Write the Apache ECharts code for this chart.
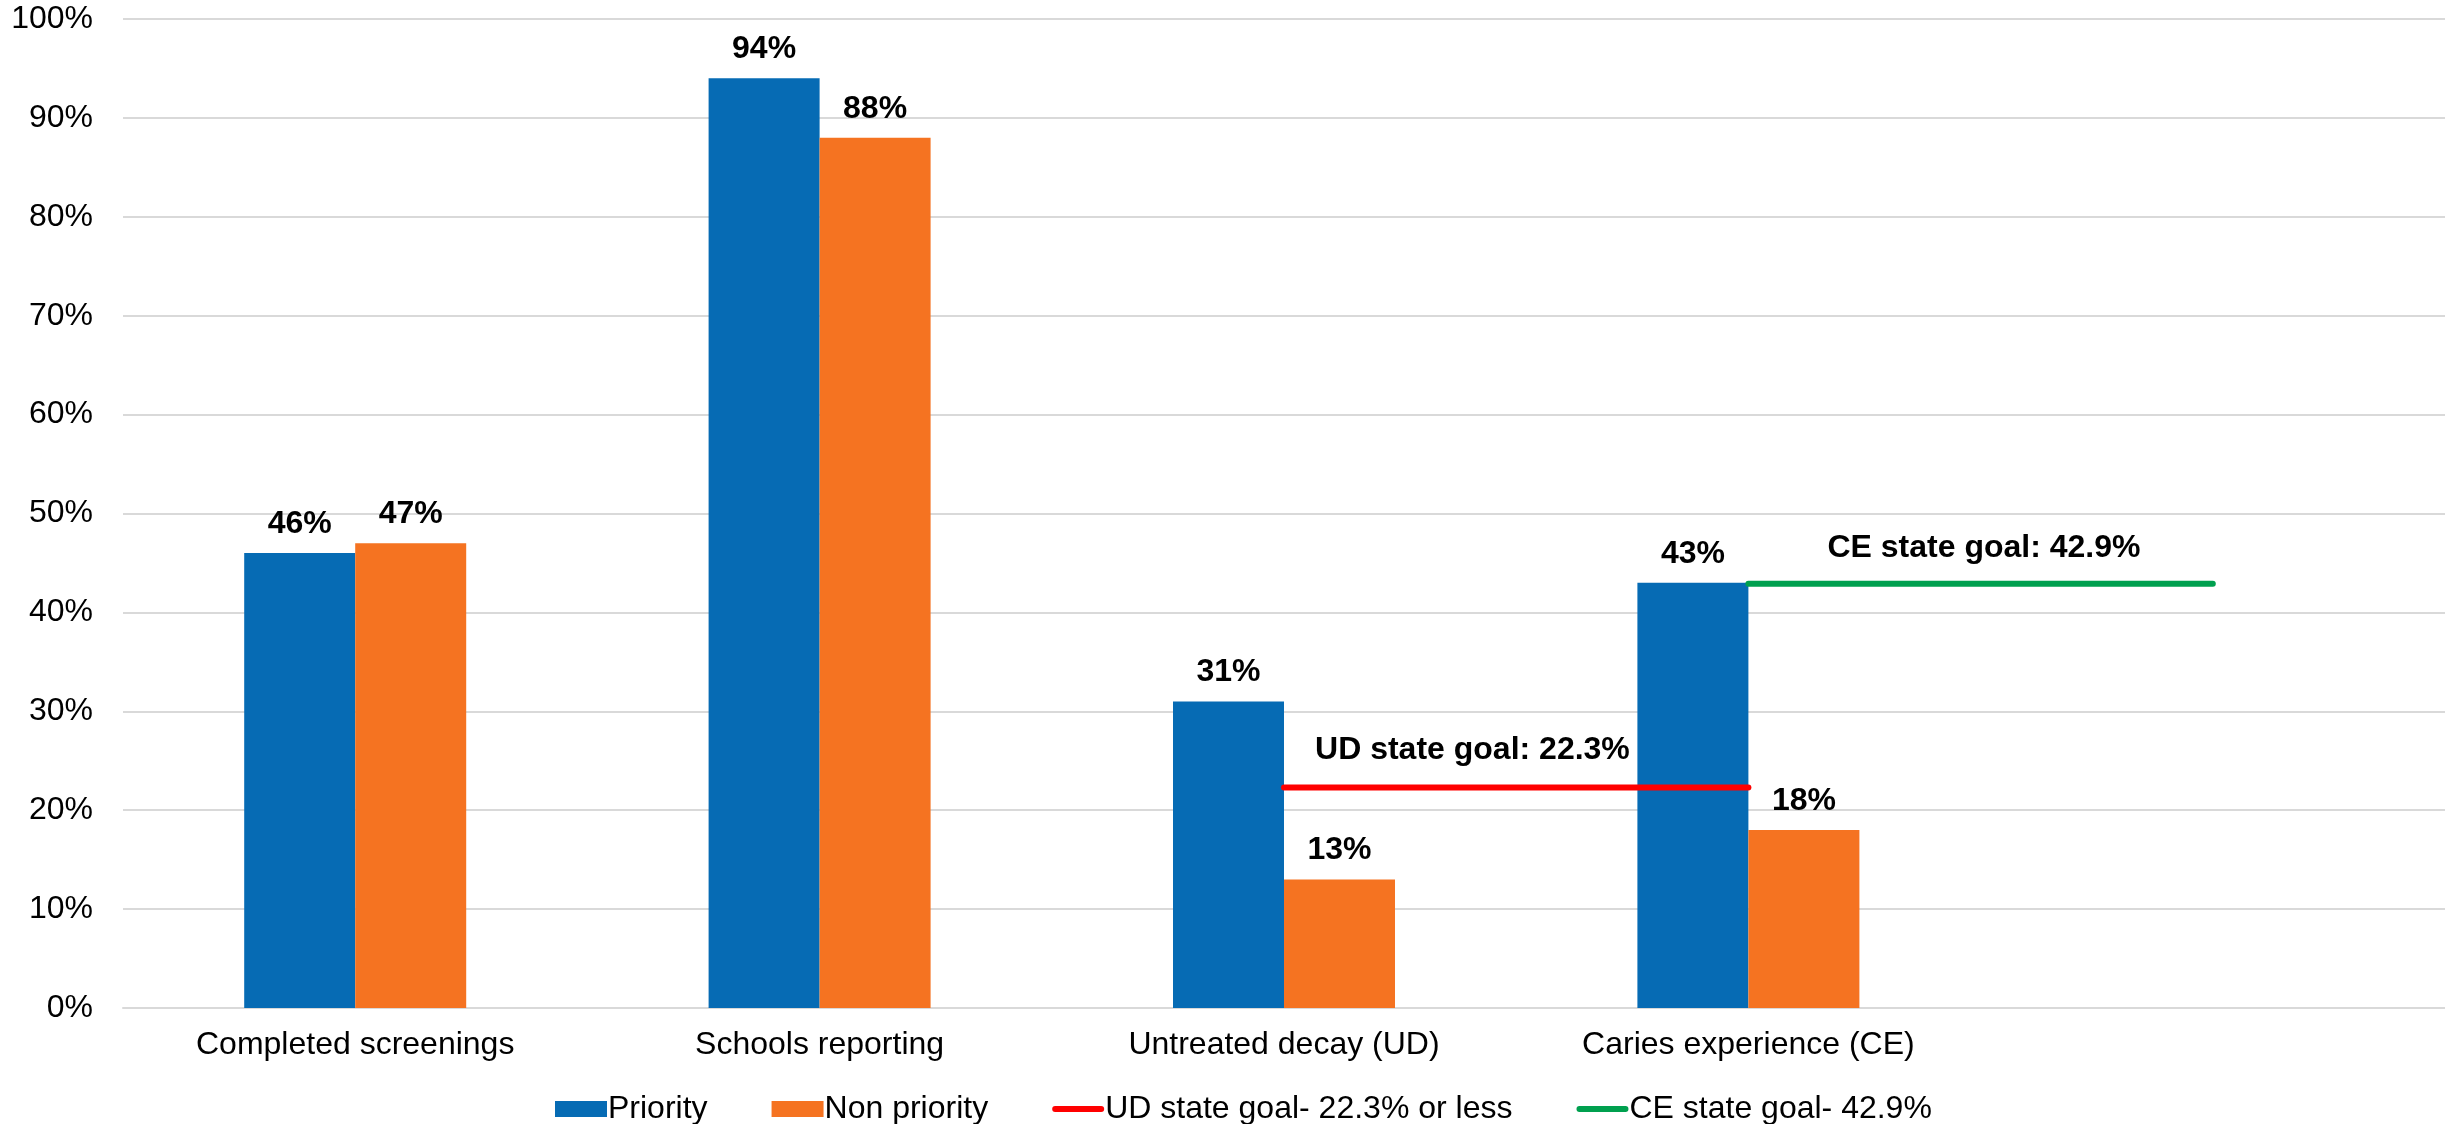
<!DOCTYPE html>
<html>
<head>
<meta charset="utf-8">
<title>Dental screening results</title>
<script src="https://cdn.jsdelivr.net/npm/echarts@6/dist/echarts.min.js"></script>
<style>
  html, body { margin: 0; padding: 0; background: #ffffff; }
  #chart { width: 2445px; height: 1124px; }
</style>
</head>
<body>
<div id="chart"></div>
<script>
// Categories (the last slot is an empty spacer that carries the CE goal line)
const categories = ['Completed screenings', 'Schools reporting', 'Untreated decay (UD)', 'Caries experience (CE)', ''];

// Percent values per group
const priority = [46, 94, 31, 43, null];
const nonPriority = [47, 88, 13, 18, null];

// State goal reference lines
const udGoal = [null, null, 22.3, 22.3, null];
const ceGoal = [null, null, null, 42.9, 42.9];

const udGoalText = 'UD state goal: 22.3%';
const ceGoalText = 'CE state goal: 42.9%';

// Y axis ticks
const yMin = 0, yMax = 100, yStep = 10;

const FONT = 'Liberation Sans, Arial, sans-serif';
const FS = 32;
const BLUE = '#066BB4';
const ORANGE = '#F57321';
const RED = '#FF0000';
const GREEN = '#00A04F';

// Thick rounded stroke for the goal-line legend keys (tiny corner specks keep the full key box)
const LINE_KEY = 'path://M0,0L0.01,0L0,0.01Z M0,16L0.01,16L0,15.99Z M3,5L49,5A3,3 0 0 1 49,11L3,11A3,3 0 0 1 3,5Z';

// Put a single bold caption on the first point of a goal line
function goalData(values, text, dist, dy) {
  let done = false;
  return values.map(v => {
    if (v === null) return null;
    if (done) return v;
    done = true;
    return {
      value: v,
      label: {
        show: true,
        formatter: text,
        position: 'right',
        distance: 0,
        offset: [dist, dy],
        fontFamily: FONT,
        fontSize: FS,
        fontWeight: 'bold',
        color: '#000'
      }
    };
  });
}

const barLabel = {
  show: true,
  position: 'top',
  distance: 13,
  formatter: p => p.value + '%',
  fontFamily: FONT,
  fontSize: FS,
  fontWeight: 'bold',
  color: '#000'
};

const chart = echarts.init(document.getElementById('chart'), null, { renderer: 'canvas' });

chart.setOption({
  animation: false,
  backgroundColor: '#ffffff',
  grid: { left: 123, right: 0, top: 19, bottom: 116, containLabel: false },
  legend: {
    left: 550,
    top: 1088,
    itemWidth: 52,
    itemHeight: 16,
    itemGap: 64,
    textStyle: { fontFamily: FONT, fontSize: FS, color: '#000', padding: [0, 0, 0, -4] },
    data: [
      { name: 'Priority', icon: 'rect' },
      { name: 'Non priority', icon: 'rect' },
      { name: 'UD state goal- 22.3% or less', icon: LINE_KEY },
      { name: 'CE state goal- 42.9%', icon: LINE_KEY }
    ]
  },
  xAxis: {
    type: 'category',
    data: categories,
    axisTick: { show: false },
    axisLine: { show: true, lineStyle: { color: '#D9D9D9', width: 2 } },
    axisLabel: { margin: 21, fontFamily: FONT, fontSize: FS, color: '#000', interval: 0 }
  },
  yAxis: {
    type: 'value',
    min: yMin,
    max: yMax,
    interval: yStep,
    axisLine: { show: false },
    axisTick: { show: false },
    splitLine: { lineStyle: { color: '#D9D9D9', width: 2 } },
    axisLabel: { margin: 30, formatter: '{value}%', fontFamily: FONT, fontSize: FS, color: '#000' }
  },
  series: [
    {
      name: 'Priority',
      type: 'bar',
      data: priority,
      barWidth: 111,
      barGap: '0%',
      itemStyle: { color: BLUE },
      label: barLabel,
      z: 2
    },
    {
      name: 'Non priority',
      type: 'bar',
      data: nonPriority,
      barWidth: 111,
      barGap: '0%',
      itemStyle: { color: ORANGE },
      label: barLabel,
      z: 2
    },
    {
      name: 'UD state goal- 22.3% or less',
      type: 'line',
      data: goalData(udGoal, udGoalText, 31, -37),
      symbol: 'circle',
      symbolSize: 0.1,
      showSymbol: true,
      connectNulls: false,
      lineStyle: { color: RED, width: 6, cap: 'round' },
      itemStyle: { color: RED },
      z: 5
    },
    {
      name: 'CE state goal- 42.9%',
      type: 'line',
      data: goalData(ceGoal, ceGoalText, 79, -36),
      symbol: 'circle',
      symbolSize: 0.1,
      showSymbol: true,
      connectNulls: false,
      lineStyle: { color: GREEN, width: 6, cap: 'round' },
      itemStyle: { color: GREEN },
      z: 5
    }
  ]
});
</script>
</body>
</html>
